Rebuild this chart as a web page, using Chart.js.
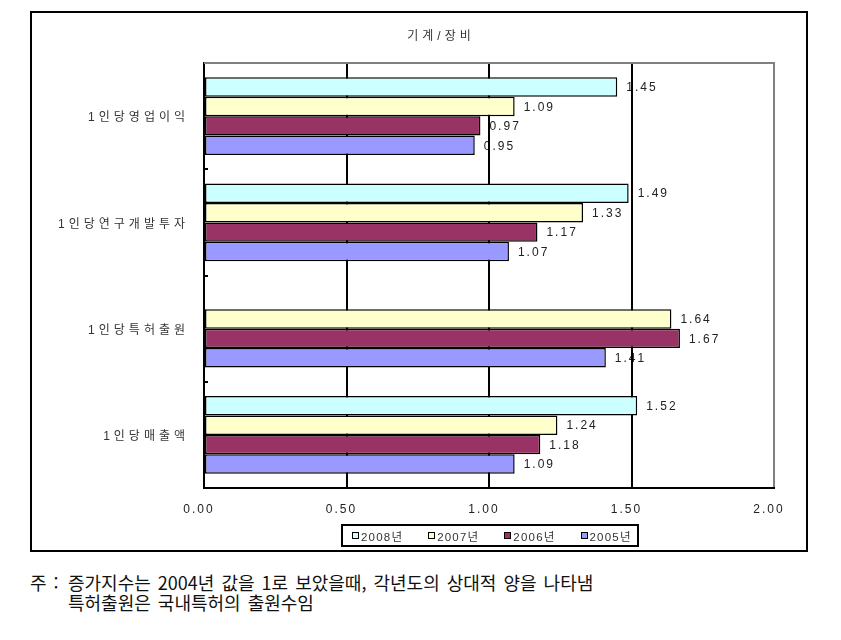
<!DOCTYPE html>
<html lang="ko">
<head>
<meta charset="utf-8">
<title>기계/장비</title>
<script src="https://cdn.jsdelivr.net/npm/chart.js@4.4.1/dist/chart.umd.min.js"></script>
<style>
  body { margin: 0; background: #fff; width: 841px; height: 640px; position: relative; font-family: 'Noto Sans CJK KR', sans-serif; }
  #frame { position: absolute; left: 30px; top: 11px; width: 774px; height: 537px; border: 2px solid #000; }
  #chart { position: absolute; left: 0; top: 0; }
  #legend { position: absolute; left: 341px; top: 524px; width: 285px; height: 19px; border: 2px solid #000;
            display: flex; align-items: center; padding-left: 9px; box-sizing: content-box; gap: 25px; }
  #legend .item { display: flex; align-items: center; }
  #legend .mark { width: 5px; height: 5px; border: 1px solid #000; }
  #legend .text { margin-left: 2px; font: 11.5px 'Liberation Sans', 'Noto Sans CJK KR', sans-serif; letter-spacing: 1.2px; color: #333; }
  #note { position: absolute; left: 30px; top: 572px; font-size: 18px; line-height: 20px; color: #111; word-spacing: 2px; white-space: nowrap; }
  #note .lead { display: inline-block; width: 38px; }
</style>
</head>
<body>
<div id="frame"><canvas id="chart" width="774" height="537"></canvas></div>
<div id="legend"></div>
<div id="note">
  <div><span class="lead">주 :</span>증가지수는 2004년 값을 1로 보았을때, 각년도의 상대적 양을 나타냄</div>
  <div><span class="lead"></span>특허출원은 국내특허의 출원수임</div>
</div>
<script>
// 기계/장비 증가지수 (2004 = 1)
const chartTitle = '기계/장비';
const categories = ['1인당영업이익', '1인당연구개발투자', '1인당특허출원', '1인당매출액'];
const seriesNames = ['2008년', '2007년', '2006년', '2005년'];
const values2008 = [1.45, 1.49, null, 1.52];
const values2007 = [1.09, 1.33, 1.64, 1.24];
const values2006 = [0.97, 1.17, 1.67, 1.18];
const values2005 = [0.95, 1.07, 1.41, 1.09];
const xTicks = [0, 0.5, 1.0, 1.5, 2.0];
const seriesColors = ['#CCFFFF', '#FFFFCC', '#993366', '#9999FF'];

const fontFamily = "'Liberation Sans', 'Noto Sans CJK KR', sans-serif";
Chart.defaults.font.family = fontFamily;

// wrap a draw method so its text gets wider letter spacing
function spaced(obj, method, spacing) {
    if (!obj || obj['_spaced_' + method]) return;
    const orig = obj[method];
    obj[method] = function (...args) {
        const c = this.ctx;
        c.save();
        c.letterSpacing = spacing;
        orig.apply(this, args);
        c.restore();
    };
    obj['_spaced_' + method] = true;
}

const decorPlugin = {
    id: 'decor',
    afterLayout(chart) {
        // title is centred a bit left of the plot, as in the original
        if (chart.titleBlock) chart.titleBlock.left = 76;
    },
    afterUpdate(chart) {
        spaced(chart.scales.y, 'drawLabels', '4px');
        spaced(chart.titleBlock, 'draw', '4px');
    },
    beforeDraw(chart) {
        const ctx = chart.ctx;
        ctx.letterSpacing = '2px';
        // value labels (drawn first, so grid lines pass over them like the original)
        ctx.save();
        ctx.font = '12px ' + fontFamily;
        ctx.fillStyle = '#222';
        ctx.textBaseline = 'middle';
        ctx.textAlign = 'left';
        chart.data.datasets.forEach((ds, i) => {
            chart.getDatasetMeta(i).data.forEach((bar, j) => {
                const v = ds.data[j];
                if (v == null) return;
                ctx.fillText(v.toFixed(2), bar.x + 9, bar.y + 1);
            });
        });
        ctx.restore();
    },
    afterDraw(chart) {
        const ctx = chart.ctx;
        const area = chart.chartArea;
        const y = chart.scales.y;
        ctx.save();
        // top border of plot area
        ctx.strokeStyle = '#808080';
        ctx.lineWidth = 2;
        ctx.beginPath();
        ctx.moveTo(area.left, area.top);
        ctx.lineTo(area.right + 1, area.top);
        ctx.stroke();
        // short tick marks between categories
        ctx.strokeStyle = '#000';
        for (let i = 1; i < categories.length; i++) {
            const py = Math.round((y.getPixelForTick(i - 1) + y.getPixelForTick(i)) / 2);
            ctx.beginPath();
            ctx.moveTo(area.left, py);
            ctx.lineTo(area.left + 4, py);
            ctx.stroke();
        }
        ctx.restore();
    }
};

const seriesValues = [values2008, values2007, values2006, values2005];

new Chart(document.getElementById('chart').getContext('2d'), {
    type: 'bar',
    data: {
        labels: categories,
        datasets: seriesNames.map((name, i) => ({
            label: name,
            data: seriesValues[i],
            backgroundColor: seriesColors[i],
            borderColor: '#000',
            borderWidth: 1.5,
            borderSkipped: false,
            categoryPercentage: 0.734,
            barPercentage: 1.0
        }))
    },
    options: {
        indexAxis: 'y',
        responsive: false,
        animation: false,
        devicePixelRatio: 1,
        layout: { padding: { top: 16, left: 0, right: 32, bottom: 0 } },
        plugins: {
            legend: { display: false },
            tooltip: { enabled: false },
            title: {
                display: true,
                text: chartTitle,
                color: '#333',
                font: { size: 12, weight: 'normal' },
                padding: { top: 0, bottom: 19.6 }
            }
        },
        scales: {
            x: {
                min: 0,
                max: 2,
                afterBuildTicks: s => { s.ticks = xTicks.map(v => ({ value: v })); },
                afterFit: s => { s.height = 62; },
                ticks: {
                    callback: v => Number(v).toFixed(2),
                    color: '#222',
                    font: { size: 12 },
                    padding: 14,
                    labelOffset: -5,
                    maxRotation: 0
                },
                grid: {
                    color: c => (c.tick && c.tick.value === 2 ? '#808080' : '#000'),
                    lineWidth: 2,
                    drawTicks: false
                },
                border: { color: '#000', width: 2 }
            },
            y: {
                afterFit: s => { s.width = 172; },
                ticks: { color: '#333', font: { size: 12 }, padding: 15, labelOffset: 2 },
                grid: { display: false, drawTicks: false },
                border: { color: '#000', width: 2 }
            }
        }
    },
    plugins: [decorPlugin]
});

// legend in the same order as the datasets
const legendBox = document.getElementById('legend');
seriesNames.forEach((name, i) => {
    const item = document.createElement('div');
    item.className = 'item';
    item.innerHTML = `<span class="mark" style="background:${seriesColors[i]}"></span><span class="text">${name}</span>`;
    legendBox.appendChild(item);
});
</script>
</body>
</html>
